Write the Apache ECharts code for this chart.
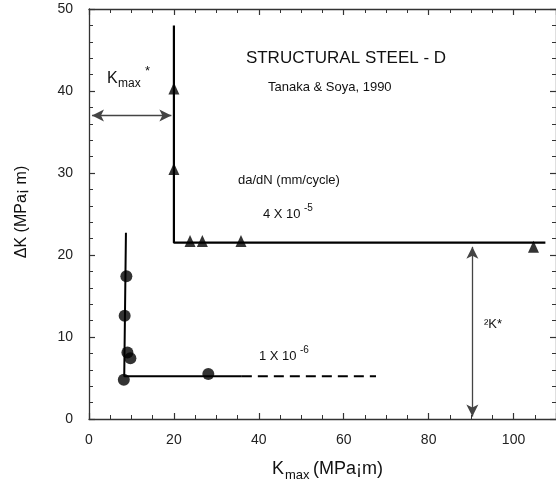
<!DOCTYPE html>
<html><head><meta charset="utf-8">
<script src="https://cdn.jsdelivr.net/npm/echarts@6/dist/echarts.min.js"></script>
<style>html,body{margin:0;padding:0;background:#fff}#c{width:556px;height:485px}</style>
</head><body><div id="c"></div>
<script>
// Axis tick values
const xTicks = [0, 20, 40, 60, 80, 100];
const yTicks = [0, 10, 20, 30, 40, 50];

// da/dN = 4 x 10^-5 mm/cycle : measured points (Kmax, ΔK)
const kmaxHigh = [20, 20, 23.8, 26.7, 35.8, 104.7];
const dkHigh = [40.3, 30.5, 21.7, 21.7, 21.7, 21.0];
// L-shaped threshold curve through them
const fitHighX = [20, 20, 107.5];
const fitHighY = [48, 21.5, 21.5];

// da/dN = 1 x 10^-6 mm/cycle : measured points
const kmaxLow = [8.2, 9.05, 9.75, 8.4, 8.8, 28.1];
const dkLow = [4.8, 8.1, 7.4, 12.6, 17.4, 5.5];
// threshold curve and its dashed extension
const fitLowX = [8.7, 8.3, 36];
const fitLowY = [22.7, 5.2, 5.2];
const extLowX = [36, 67.6];
const extLowY = [5.2, 5.2];

// dimension arrows: Kmax* and ΔK*
const kmaxStarArrow = [[0.7, 37], [19.4, 37]];
const dkStarArrow = [[90.3, 0.3], [90.3, 21]];

const zip = (xs, ys) => xs.map((x, i) => [x, ys[i]]);
const FONT = "'Liberation Sans', Arial, Helvetica, sans-serif";
const INK = '#111';
const AX = '#333';

function axisCommon(show) {
  return {
    axisLine: { show: true, onZero: false, lineStyle: { color: AX, width: 1.3 } },
    axisTick: { show: true, inside: true, length: 6, lineStyle: { color: AX, width: 1.2 } },
    splitLine: { show: false },
    axisLabel: { show: show, color: '#222', fontSize: 14, fontFamily: FONT }
  };
}
const minor = (n) => ({ show: true, splitNumber: n, length: 4, lineStyle: { color: AX, width: 1 } });

const xBase = { type: 'value', min: 0, max: 110, interval: 20 };
const yBase = { type: 'value', min: 0, max: 50, interval: 10 };

function text(x, y, str, size, opts) {
  return {
    type: 'text', x: x, y: y, silent: true,
    style: Object.assign({
      text: str, fontSize: size, fontFamily: FONT, fill: INK,
      textAlign: 'left', textVerticalAlign: 'middle'
    }, opts || {})
  };
}

const option = {
  backgroundColor: '#fff',
  animation: false,
  grid: { left: 89, top: 9, width: 470, height: 410 },
  xAxis: [
    Object.assign({}, xBase, axisCommon(true), { position: 'bottom', minorTick: minor(4),
      axisLabel: { show: true, color: '#222', fontSize: 14, fontFamily: FONT, margin: 14, showMaxLabel: false } }),
    Object.assign({}, xBase, axisCommon(false), { position: 'top', minorTick: minor(4) })
  ],
  yAxis: [
    Object.assign({}, yBase, axisCommon(true), { position: 'left', minorTick: minor(5),
      axisLabel: { show: true, color: '#222', fontSize: 14, fontFamily: FONT, margin: 16 } }),
    Object.assign({}, yBase, axisCommon(false), { position: 'right', minorTick: minor(5) })
  ],
  series: [
    {
      type: 'line', data: zip(fitHighX, fitHighY), symbol: 'none',
      lineStyle: { color: '#000', width: 2.2 }, z: 3,
      markLine: {
        silent: true, symbol: ['arrow', 'arrow'], symbolSize: [9, 12],
        label: { show: false },
        lineStyle: { color: '#444', width: 1.3, type: 'solid' },
        data: [
          [{ coord: kmaxStarArrow[0] }, { coord: kmaxStarArrow[1] }],
          [{ coord: dkStarArrow[0] }, { coord: dkStarArrow[1] }]
        ]
      }
    },
    {
      type: 'scatter', data: zip(kmaxHigh, dkHigh), symbol: 'triangle', symbolSize: [11, 12],
      itemStyle: { color: '#000' }, z: 4
    },
    {
      type: 'line', data: zip(fitLowX, fitLowY), symbol: 'none',
      lineStyle: { color: '#000', width: 2 }, z: 3
    },
    {
      type: 'line', data: zip(extLowX, extLowY), symbol: 'none',
      lineStyle: { color: '#000', width: 2, type: [10, 6] }, z: 3
    },
    {
      type: 'scatter', data: zip(kmaxLow, dkLow), symbol: 'circle', symbolSize: 12,
      itemStyle: { color: '#000' }, z: 4
    }
  ],
  graphic: [
    text(346, 58, 'STRUCTURAL STEEL - D', 17, { textAlign: 'center' }),
    text(268, 87, 'Tanaka & Soya, 1990', 13),
    text(238, 180, 'da/dN (mm/cycle)', 13),
    text(263, 214, '4 X 10', 13),
    text(304, 208, '-5', 10),
    text(259, 356, '1 X 10', 13),
    text(300, 350, '-6', 10),
    text(107, 79, 'K', 16),
    text(118, 84, 'max', 12),
    text(145, 71, '*', 13),
    text(484, 324, '\u00b2K*', 13),
    text(272, 469, 'K', 18),
    text(285, 475, 'max', 13),
    text(313, 469, '(MPa\u00a1m)', 18),
    Object.assign(text(0, 0, '\u0394K (MPa\u00a1 m)', 16, { textAlign: 'center' }), { x: 22, y: 212, rotation: Math.PI / 2 })
  ]
};

echarts.init(document.getElementById('c')).setOption(option);
</script>
</body></html>
